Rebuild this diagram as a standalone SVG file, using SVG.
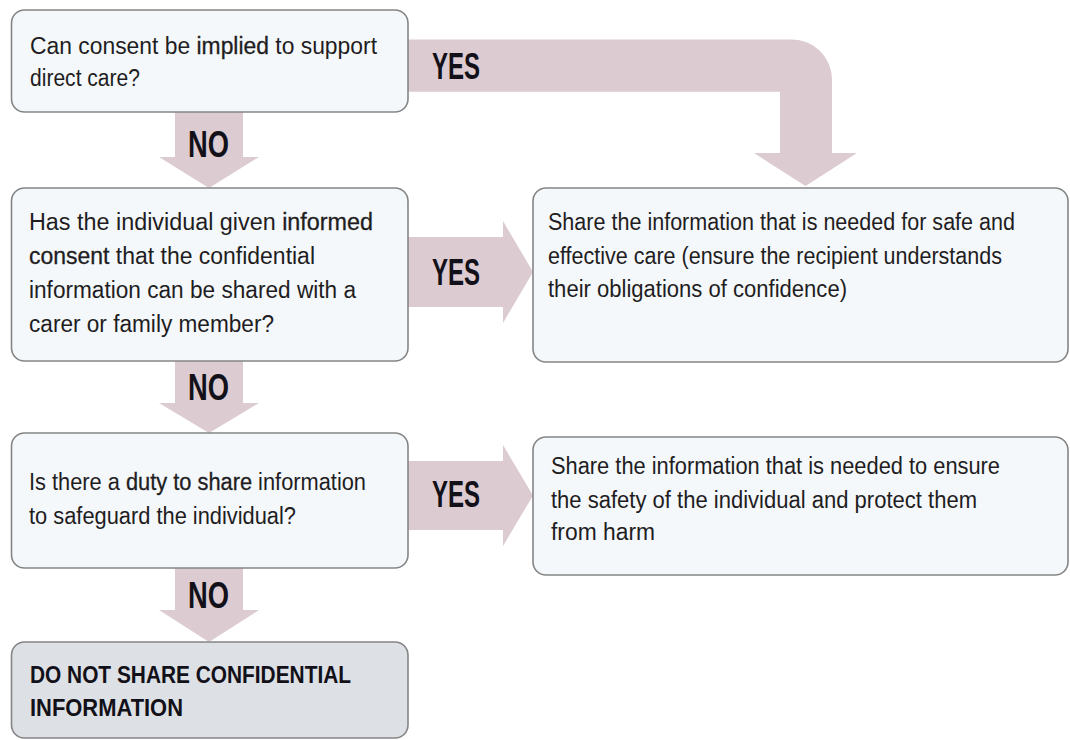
<svg xmlns="http://www.w3.org/2000/svg" width="1070" height="740" viewBox="0 0 1070 740">
  <style>
    .box { fill: #f4f8fa; stroke: #858585; stroke-width: 1.6; }
    .box.end { fill: #dde0e5; }
    .arrow { fill: #dccbd1; stroke: none; }
    .t { font-family: "Liberation Sans", Arial, sans-serif; font-size: 23px; fill: #1f1d22; }
    .em { stroke: #1f1d22; stroke-width: 0.3; }
    .lbl { font-family: "Liberation Sans", Arial, sans-serif; font-weight: bold; font-size: 36px; fill: #121018; }
    .bt { font-family: "Liberation Sans", Arial, sans-serif; font-weight: bold; font-size: 23px; fill: #121018; }
  </style>
  <rect width="1070" height="740" fill="#ffffff"/>

  <g id="connectors">
    <path class="arrow" d="M 400 39.5 H 792 A 40 40 0 0 1 832 79.5 V 153 H 857 L 805.5 186 L 754 153 H 780 V 91.7 H 400 Z"/>
    <path class="arrow" d="M 400 237 H 503 V 221 L 533 272 L 503 323 V 307 H 400 Z"/>
    <path class="arrow" d="M 400 461 H 503 V 445 L 533 495.5 L 503 546 V 530 H 400 Z"/>
    <path class="arrow" d="M 175 104 V 157 H 159 L 209 188 L 259 157 H 243 V 104 Z"/>
    <path class="arrow" d="M 175 355 V 403 H 159 L 209 433 L 259 403 H 243 V 355 Z"/>
    <path class="arrow" d="M 175 562 V 610 H 159 L 209 642 L 259 610 H 243 V 562 Z"/>
    <text class="lbl" x="432" y="79" textLength="48" lengthAdjust="spacingAndGlyphs">YES</text>
    <text class="lbl" x="432" y="285" textLength="48" lengthAdjust="spacingAndGlyphs">YES</text>
    <text class="lbl" x="432" y="507" textLength="48" lengthAdjust="spacingAndGlyphs">YES</text>
    <text class="lbl" x="188" y="157" textLength="41" lengthAdjust="spacingAndGlyphs">NO</text>
    <text class="lbl" x="188" y="400" textLength="41" lengthAdjust="spacingAndGlyphs">NO</text>
    <text class="lbl" x="188" y="608" textLength="41" lengthAdjust="spacingAndGlyphs">NO</text>
  </g>

  <g id="q1">
    <rect class="box" x="11.5" y="10" width="396.5" height="102" rx="13"/>
    <text class="t" x="30" y="54" textLength="347" lengthAdjust="spacingAndGlyphs">Can consent be <tspan class="em">implied</tspan> to support</text>
    <text class="t" x="30" y="86" textLength="110" lengthAdjust="spacingAndGlyphs">direct care?</text>
  </g>

  <g id="q2">
    <rect class="box" x="11.5" y="188" width="396.5" height="173" rx="13"/>
    <text class="t" x="29" y="230" textLength="344" lengthAdjust="spacingAndGlyphs">Has the individual given <tspan class="em">informed</tspan></text>
    <text class="t" x="29" y="264" textLength="286" lengthAdjust="spacingAndGlyphs"><tspan class="em">consent</tspan> that the confidential</text>
    <text class="t" x="29" y="298" textLength="327" lengthAdjust="spacingAndGlyphs">information can be shared with a</text>
    <text class="t" x="29" y="332" textLength="245" lengthAdjust="spacingAndGlyphs">carer or family member?</text>
  </g>

  <g id="q3">
    <rect class="box" x="11.5" y="433" width="396.5" height="135" rx="13"/>
    <text class="t" x="29" y="490" textLength="337" lengthAdjust="spacingAndGlyphs">Is there a <tspan class="em">duty to share</tspan> information</text>
    <text class="t" x="29" y="524" textLength="267" lengthAdjust="spacingAndGlyphs">to safeguard the individual?</text>
  </g>

  <g id="stop">
    <rect class="box end" x="11.5" y="642" width="396.5" height="96" rx="13"/>
    <text class="bt" x="30" y="683" textLength="321" lengthAdjust="spacingAndGlyphs">DO NOT SHARE CONFIDENTIAL</text>
    <text class="bt" x="30" y="716" textLength="153" lengthAdjust="spacingAndGlyphs">INFORMATION</text>
  </g>

  <g id="share-care">
    <rect class="box" x="533" y="188" width="535" height="174" rx="13"/>
    <text class="t" x="548" y="230" textLength="467" lengthAdjust="spacingAndGlyphs">Share the information that is needed for safe and</text>
    <text class="t" x="548" y="264" textLength="454" lengthAdjust="spacingAndGlyphs">effective care (ensure the recipient understands</text>
    <text class="t" x="548" y="297" textLength="299" lengthAdjust="spacingAndGlyphs">their obligations of confidence)</text>
  </g>

  <g id="share-safety">
    <rect class="box" x="533" y="437" width="535" height="138" rx="13"/>
    <text class="t" x="551" y="474" textLength="449" lengthAdjust="spacingAndGlyphs">Share the information that is needed to ensure</text>
    <text class="t" x="551" y="508" textLength="426" lengthAdjust="spacingAndGlyphs">the safety of the individual and protect them</text>
    <text class="t" x="551" y="540" textLength="104" lengthAdjust="spacingAndGlyphs">from harm</text>
  </g>
</svg>
